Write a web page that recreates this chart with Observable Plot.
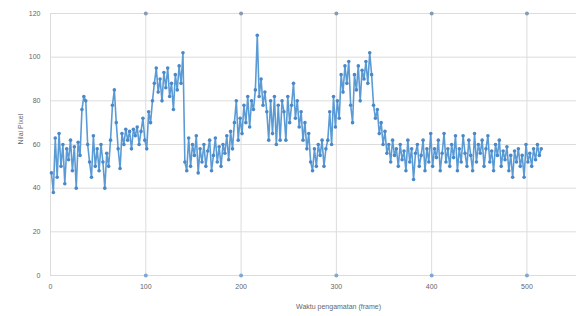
<!DOCTYPE html>
<html>
<head>
<meta charset="utf-8">
<script src="https://cdn.jsdelivr.net/npm/d3@7"></script>
<script src="https://cdn.jsdelivr.net/npm/@observablehq/plot@0.6"></script>
<style>
  html, body { margin: 0; padding: 0; background: #fff; }
  #chart { width: 576px; height: 316px; }
</style>
</head>
<body>
<div id="chart"></div>
<script>
// Frame numbers (every 2nd frame, 1..515) and pixel values
const frameStart = 1;
const frameStep = 2;
const pixelValues = [
  47, 38, 63, 45, 65,  50, 60, 42, 58, 53,
  62, 48, 59, 40, 61,  55, 76, 82, 80, 60,
  52, 45, 64, 50, 58,  48, 60, 52, 40, 56,
  50, 62, 78, 85, 70,  58, 49, 65, 60, 67,
  62, 66, 58, 67, 64,  68, 60, 66, 72, 62,
  58, 75, 70, 80, 88,  95, 84, 90, 80, 93,
  86, 95, 82, 88, 76,  92, 85, 96, 88, 102,
  52, 48, 63, 50, 60,  55, 64, 47, 58, 52,
  60, 50, 57, 62, 48,  55, 63, 52, 59, 50,
  60, 56, 64, 53, 66,  58, 70, 80, 62, 72,
  65, 78, 70, 82, 68,  80, 76, 85, 110, 82,
  90, 78, 84, 75, 62,  80, 65, 82, 60, 78,
  62, 80, 75, 62, 82,  70, 78, 88, 72, 80,
  68, 75, 62, 70, 58,  65, 52, 48, 58, 50,
  60, 55, 62, 50, 58,  62, 75, 60, 82, 68,
  80, 72, 92, 84, 96,  88, 98, 78, 70, 92,
  85, 96, 80, 94, 90,  98, 88, 102, 92, 78,
  72, 76, 65, 70, 60,  66, 56, 60, 52, 62,
  55, 58, 50, 60, 53,  57, 48, 62, 52, 58,
  44, 56, 60, 50, 55,  62, 48, 58, 52, 65,
  50, 58, 54, 62, 48,  56, 65, 52, 58, 50,
  60, 54, 64, 48, 58,  52, 64, 56, 50, 62,
  55, 48, 65, 52, 60,  56, 62, 50, 58, 64,
  52, 57, 48, 60, 55,  62, 50, 57, 53, 59,
  48, 55, 45, 57, 52,  58, 50, 55, 45, 60,
  52, 56, 50, 58, 53,  60, 55, 58
];
const xTicks = [0, 100, 200, 300, 400, 500];
const yTicks = [0, 20, 40, 60, 80, 100, 120];
const markerFrames = [100, 200, 300, 400, 500];
const xTitle = "Waktu pengamatan (frame)";
const yTitle = "Nilai Pixel";

const data = pixelValues.map((v, i) => ({frame: frameStart + i * frameStep, value: v}));
const topMarks = markerFrames.map(f => ({frame: f, value: 120}));
const bottomMarks = markerFrames.map(f => ({frame: f, value: 0}));

const chart = Plot.plot({
  width: 576,
  height: 316,
  marginLeft: 50,
  marginRight: 0,
  marginTop: 13,
  marginBottom: 41,
  style: {fontFamily: "Liberation Sans, Arial, sans-serif", fontSize: "7px", color: "#666", background: "#fff"},
  x: {domain: [0, 552], ticks: xTicks},
  y: {domain: [0, 120], ticks: yTicks},
  marks: [
    Plot.ruleY(yTicks, {stroke: "#dcdcdc", strokeWidth: 1}),
    Plot.ruleX(xTicks, {stroke: "#dcdcdc", strokeWidth: 1}),
    Plot.dot(topMarks, {x: "frame", y: "value", r: 2, fill: "#8a9bb0", stroke: "none"}),
    Plot.dot(bottomMarks, {x: "frame", y: "value", r: 2, fill: "#7fa7d0", stroke: "none"}),
    Plot.axisX({ticks: xTicks, tickSize: 0, tickPadding: 9, label: null, fill: "#666"}),
    Plot.axisY({ticks: yTicks, tickSize: 0, tickPadding: 10, label: null, fill: "#666"}),
    Plot.line(data, {x: "frame", y: "value", stroke: "#5b9bd5", strokeWidth: 1.6}),
    Plot.dot(data, {x: "frame", y: "value", r: 1.8, fill: "#4a88c8", stroke: "none"}),
    Plot.text([xTitle], {frameAnchor: "bottom", dx: 25, dy: 33, fill: "#666", fontSize: 7}),
    Plot.text([yTitle], {frameAnchor: "left", dx: -30, rotate: -90, fill: "#666", fontSize: 7})
  ]
});
document.getElementById("chart").appendChild(chart);
</script>
</body>
</html>
